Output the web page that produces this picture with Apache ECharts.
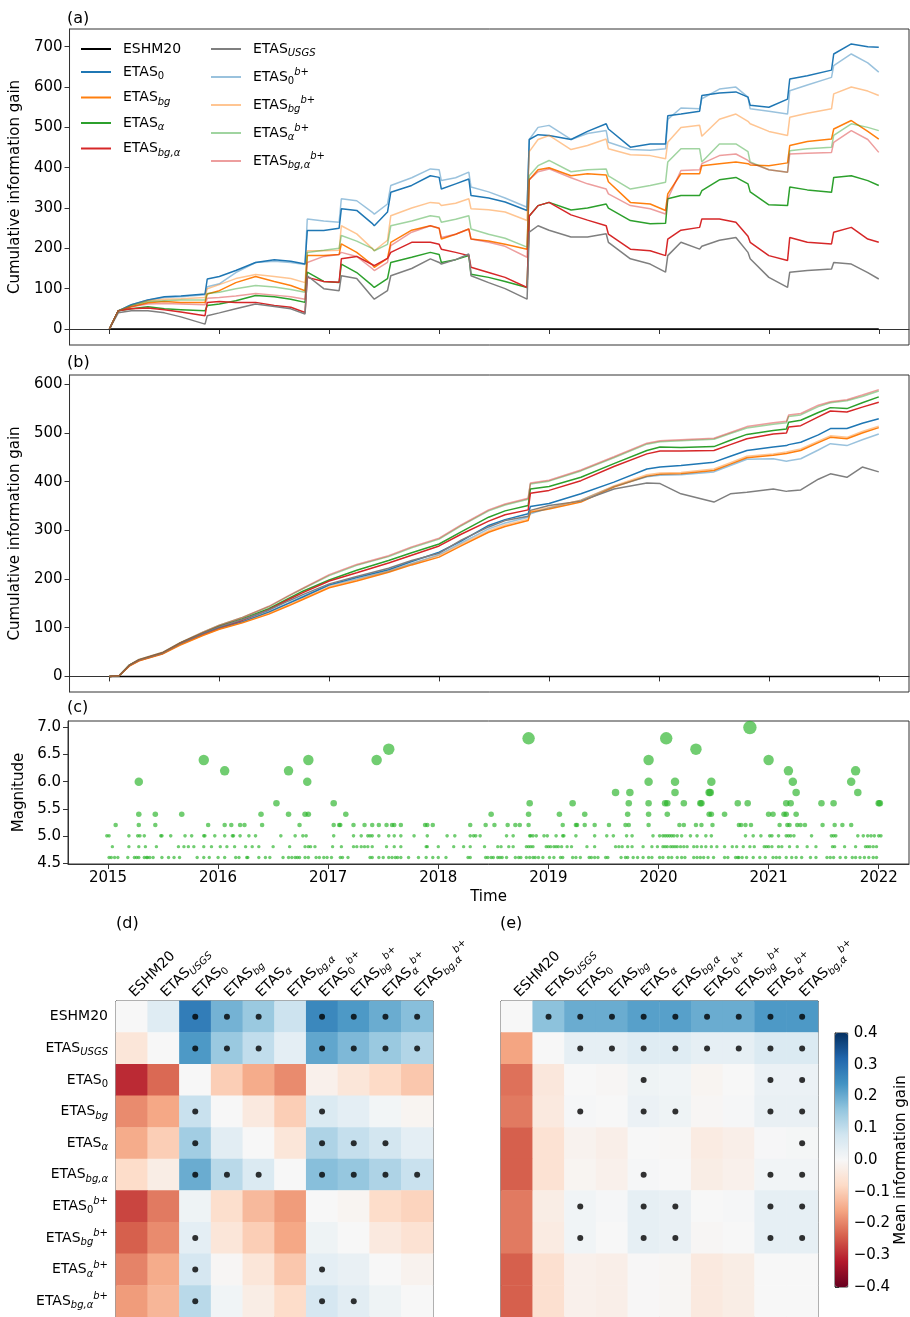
<!DOCTYPE html>
<html>
<head>
<meta charset="utf-8">
<script src="https://cdn.jsdelivr.net/npm/echarts@6/dist/echarts.min.js"></script>
<style>
  html, body { margin: 0; padding: 0; background: #fff; }
  #chart { width: 910px; height: 1317px; }
</style>
</head>
<body>
<div id="chart"></div>
<script>
// model names: '_' starts a subscript, '^' a superscript
const models = ['ESHM20', 'ETAS_USGS', 'ETAS_0', 'ETAS_bg', 'ETAS_α', 'ETAS_bg,α',
  'ETAS_0^b+', 'ETAS_bg^b+', 'ETAS_α^b+', 'ETAS_bg,α^b+'];
const years = [2015, 2016, 2017, 2018, 2019, 2020, 2021, 2022];

// (a) cumulative information gain, last 1-year window
const tA = [2015.0, 2015.08, 2015.2, 2015.35, 2015.5, 2015.65, 2015.87, 2015.89, 2016.0, 2016.15,
  2016.33, 2016.5, 2016.65, 2016.78, 2016.8, 2016.95, 2017.09, 2017.11, 2017.25, 2017.39,
  2017.41, 2017.53, 2017.56, 2017.75, 2017.92, 2018.0, 2018.02, 2018.15, 2018.27, 2018.29,
  2018.45, 2018.6, 2018.8, 2018.82, 2018.9, 2019.0, 2019.2, 2019.35, 2019.52, 2019.54,
  2019.74, 2019.92, 2020.06, 2020.08, 2020.2, 2020.37, 2020.39, 2020.55, 2020.7, 2020.81,
  2020.83, 2021.0, 2021.17, 2021.19, 2021.35, 2021.57, 2021.59, 2021.75, 2021.9, 2022.0];
const aEtas0 = [0, 45, 60, 72, 80, 82, 87, 124, 130, 145,
  165, 172, 168, 161, 244, 244, 250, 298, 294, 262,
  256, 290, 339, 356, 380, 376, 347, 360, 372, 331,
  325, 315, 294, 470, 482, 480, 470, 490, 509, 496,
  451, 459, 459, 529, 533, 540, 579, 585, 588, 575,
  555, 550, 570, 620, 628, 642, 682, 707, 700, 699];
const aEtasBg = [0, 45, 55, 65, 68, 66, 66, 87, 95, 115,
  130, 118, 108, 95, 182, 182, 185, 211, 190, 160,
  153, 175, 215, 245, 256, 250, 223, 235, 248, 223,
  218, 210, 198, 370, 395, 400, 380, 385, 382, 365,
  314, 310, 294, 335, 385, 385, 405, 410, 414, 410,
  407, 405, 412, 455, 465, 471, 496, 517, 490, 471];
const aEtasA = [0, 45, 50, 55, 50, 48, 45, 58, 62, 70,
  83, 80, 74, 66, 141, 118, 115, 161, 140, 108,
  103, 125, 165, 178, 190, 185, 165, 172, 182, 136,
  128, 118, 103, 280, 306, 314, 295, 300, 310, 300,
  269, 261, 262, 323, 331, 331, 343, 370, 376, 360,
  340, 308, 306, 352, 345, 339, 376, 380, 368, 356];
const aEtasBgA = [0, 45, 50, 52, 48, 42, 33, 66, 68, 66,
  66, 58, 54, 41, 128, 118, 116, 174, 180, 160,
  157, 175, 190, 215, 215, 210, 198, 190, 182, 153,
  140, 128, 103, 280, 306, 314, 283, 270, 256, 235,
  198, 194, 182, 223, 245, 252, 273, 273, 265, 230,
  215, 182, 170, 227, 215, 211, 240, 252, 223, 215];
const aEtasUsgs = [0, 40, 45, 45, 40, 30, 12, 33, 40, 50,
  62, 56, 50, 37, 132, 100, 95, 132, 125, 80,
  74, 95, 132, 150, 174, 165, 161, 172, 186, 132,
  115, 100, 74, 240, 256, 245, 228, 228, 236, 215,
  174, 161, 141, 182, 215, 198, 205, 220, 227, 190,
  174, 128, 103, 141, 145, 149, 165, 161, 140, 124];
const aEtas0B = [0, 45, 60, 72, 78, 80, 85, 105, 112, 140,
  165, 168, 165, 160, 273, 268, 265, 323, 318, 290,
  285, 310, 356, 375, 397, 395, 368, 375, 389, 352,
  340, 325, 302, 470, 500, 505, 470, 485, 492, 463,
  445, 443, 447, 520, 548, 546, 571, 595, 600, 575,
  546, 540, 533, 591, 605, 624, 653, 682, 660, 637];
const aEtasBgB = [0, 45, 58, 70, 74, 75, 78, 100, 110, 125,
  135, 130, 125, 115, 194, 194, 195, 256, 236, 200,
  194, 220, 281, 300, 314, 312, 306, 312, 323, 298,
  296, 290, 269, 440, 470, 480, 445, 455, 471, 447,
  432, 430, 422, 463, 500, 505, 478, 520, 533, 515,
  509, 490, 480, 525, 535, 546, 583, 600, 590, 579];
const aEtasAB = [0, 45, 58, 68, 70, 72, 72, 88, 91, 100,
  108, 104, 98, 91, 190, 195, 200, 232, 218, 200,
  194, 210, 256, 268, 281, 278, 265, 272, 281, 248,
  235, 225, 203, 380, 405, 418, 390, 395, 397, 380,
  347, 356, 364, 414, 447, 447, 414, 459, 459, 440,
  414, 395, 389, 442, 447, 451, 480, 509, 500, 492];
const aEtasBgAB = [0, 45, 55, 62, 63, 62, 60, 76, 78, 82,
  88, 84, 80, 74, 165, 180, 185, 190, 180, 150,
  145, 165, 207, 240, 256, 250, 227, 235, 248, 223,
  215, 205, 178, 370, 390, 397, 375, 360, 347, 335,
  306, 298, 285, 323, 393, 395, 410, 430, 434, 418,
  412, 395, 389, 434, 436, 438, 463, 492, 470, 438];

// (b) cumulative information gain, whole period
const tB = [2015.0, 2015.09, 2015.18, 2015.27, 2015.48, 2015.64, 2015.85, 2016.0, 2016.21, 2016.45,
  2016.63, 2016.76, 2017.0, 2017.25, 2017.54, 2017.75, 2018.0, 2018.2, 2018.45, 2018.6,
  2018.81, 2018.83, 2019.0, 2019.29, 2019.59, 2019.89, 2020.01, 2020.2, 2020.5, 2020.65,
  2020.8, 2021.04, 2021.16, 2021.18, 2021.29, 2021.45, 2021.56, 2021.71, 2021.85, 2022.0];
const bEtas0 = [0, 2, 22, 33, 47, 66, 86, 99, 112, 132,
  150, 163, 188, 203, 219, 236, 255, 278, 310, 322,
  334, 349, 355, 375, 399, 426, 430, 433, 440, 452,
  464, 471, 474, 476, 481, 496, 509, 509, 520, 529];
const bEtasBg = [0, 2, 21, 32, 46, 64, 84, 97, 110, 128,
  145, 158, 182, 196, 214, 229, 245, 268, 296, 308,
  320, 337, 344, 358, 389, 411, 415, 416, 423, 436,
  449, 454, 458, 459, 464, 480, 491, 488, 500, 511];
const bEtasA = [0, 2, 23, 34, 48, 68, 89, 103, 118, 139,
  160, 175, 198, 218, 238, 254, 272, 297, 327, 340,
  351, 385, 390, 409, 437, 464, 471, 470, 472, 485,
  497, 505, 508, 522, 526, 542, 552, 550, 562, 574];
const bEtasBgA = [0, 2, 22, 33, 47, 67, 87, 100, 115, 137,
  158, 172, 196, 213, 233, 249, 268, 292, 319, 332,
  342, 376, 382, 402, 431, 457, 463, 463, 464, 476,
  488, 498, 500, 512, 515, 533, 545, 543, 553, 563];
const bEtasUsgs = [0, 2, 23, 34, 48, 68, 89, 102, 117, 136,
  155, 168, 190, 205, 222, 238, 253, 280, 307, 320,
  329, 341, 351, 360, 385, 397, 396, 375, 358, 375,
  378, 385, 380, 381, 383, 405, 416, 409, 430, 420];
const bEtas0B = [0, 2, 22, 33, 47, 66, 87, 100, 113, 133,
  151, 164, 187, 200, 216, 232, 250, 274, 303, 315,
  327, 334, 346, 362, 390, 410, 413, 414, 420, 433,
  446, 447, 442, 443, 447, 465, 478, 474, 486, 498];
const bEtasBgB = [0, 2, 21, 32, 46, 65, 85, 98, 111, 130,
  147, 160, 184, 198, 216, 231, 248, 271, 299, 311,
  323, 339, 347, 362, 391, 414, 418, 419, 426, 439,
  452, 457, 461, 462, 467, 483, 494, 491, 503, 514];
const bEtasAB = [0, 2, 23, 35, 49, 69, 91, 105, 121, 143,
  165, 180, 207, 228, 246, 264, 282, 309, 340, 352,
  364, 395, 401, 422, 449, 477, 482, 484, 487, 499,
  510, 518, 521, 534, 537, 554, 562, 566, 575, 586];
const bEtasBgAB = [0, 2, 23, 35, 49, 69, 91, 105, 121, 144,
  166, 181, 209, 230, 248, 266, 284, 311, 342, 354,
  366, 397, 403, 424, 451, 479, 484, 486, 489, 501,
  513, 521, 524, 537, 540, 557, 564, 568, 578, 589];

// (c) earthquake times (decimal year) grouped by magnitude
const eqM46 = [2015.01, 2015.03, 2015.06, 2015.09, 2015.18, 2015.24, 2015.26, 2015.28, 2015.33, 2015.35,
  2015.36, 2015.38, 2015.41, 2015.49, 2015.55, 2015.60, 2015.65, 2015.81, 2015.87, 2015.92,
  2016.00, 2016.06, 2016.16, 2016.19, 2016.26, 2016.27, 2016.37, 2016.43, 2016.47, 2016.59,
  2016.64, 2016.67, 2016.70, 2016.72, 2016.74, 2016.79, 2016.82, 2016.89, 2016.92, 2016.96,
  2016.99, 2017.03, 2017.11, 2017.13, 2017.18, 2017.38, 2017.40, 2017.46, 2017.50, 2017.55,
  2017.58, 2017.61, 2017.63, 2017.66, 2017.73, 2017.82, 2017.89, 2017.95, 2018.00, 2018.07,
  2018.27, 2018.29, 2018.43, 2018.45, 2018.48, 2018.50, 2018.54, 2018.56, 2018.58, 2018.62,
  2018.70, 2018.73, 2018.75, 2018.80, 2018.83, 2018.86, 2018.88, 2018.91, 2018.95, 2019.01,
  2019.05, 2019.11, 2019.13, 2019.22, 2019.25, 2019.29, 2019.37, 2019.39, 2019.42, 2019.45,
  2019.52, 2019.54, 2019.66, 2019.70, 2019.72, 2019.77, 2019.81, 2019.86, 2019.91, 2019.94,
  2020.01, 2020.04, 2020.09, 2020.12, 2020.17, 2020.21, 2020.24, 2020.32, 2020.35, 2020.38,
  2020.41, 2020.45, 2020.50, 2020.60, 2020.63, 2020.70, 2020.72, 2020.73, 2020.76, 2020.80,
  2020.86, 2020.92, 2020.97, 2021.04, 2021.07, 2021.10, 2021.16, 2021.21, 2021.25, 2021.30,
  2021.38, 2021.43, 2021.53, 2021.56, 2021.59, 2021.65, 2021.70, 2021.76, 2021.79, 2021.83,
  2021.87, 2021.91, 2021.95, 2021.98];
const eqM48 = [2015.04, 2015.19, 2015.28, 2015.34, 2015.44, 2015.64, 2015.69, 2015.73, 2015.78, 2015.87,
  2015.94, 2016.02, 2016.08, 2016.15, 2016.25, 2016.31, 2016.37, 2016.50, 2016.65, 2016.79,
  2016.82, 2016.84, 2016.88, 2017.04, 2017.12, 2017.23, 2017.26, 2017.30, 2017.33, 2017.36,
  2017.40, 2017.53, 2017.60, 2017.66, 2017.89, 2017.90, 2018.00, 2018.14, 2018.23, 2018.29,
  2018.42, 2018.54, 2018.57, 2018.64, 2018.68, 2018.80, 2018.82, 2018.84, 2018.86, 2018.98,
  2019.00, 2019.02, 2019.05, 2019.07, 2019.09, 2019.12, 2019.17, 2019.21, 2019.35, 2019.42,
  2019.61, 2019.64, 2019.67, 2019.72, 2019.76, 2019.86, 2019.94, 2019.99, 2020.04, 2020.06,
  2020.08, 2020.11, 2020.13, 2020.15, 2020.17, 2020.20, 2020.23, 2020.26, 2020.32, 2020.35,
  2020.39, 2020.43, 2020.48, 2020.53, 2020.60, 2020.67, 2020.71, 2020.77, 2020.83, 2020.87,
  2020.96, 2020.98, 2021.00, 2021.03, 2021.09, 2021.12, 2021.19, 2021.26, 2021.35, 2021.43,
  2021.58, 2021.60, 2021.69, 2021.79, 2021.88, 2021.90, 2021.92, 2021.95, 2021.98];
const eqM50 = [2014.99, 2015.01, 2015.19, 2015.27, 2015.29, 2015.33, 2015.48, 2015.49, 2015.57, 2015.70,
  2015.76, 2015.87, 2015.88, 2015.97, 2016.06, 2016.13, 2016.14, 2016.20, 2016.28, 2016.34,
  2016.57, 2016.70, 2016.77, 2016.80, 2017.05, 2017.23, 2017.30, 2017.36, 2017.38, 2017.40,
  2017.46, 2017.55, 2017.60, 2017.66, 2017.78, 2017.90, 2018.08, 2018.15, 2018.29, 2018.32,
  2018.34, 2018.38, 2018.62, 2018.68, 2018.83, 2018.84, 2018.86, 2018.89, 2018.96, 2018.99,
  2019.07, 2019.13, 2019.14, 2019.25, 2019.42, 2019.53, 2019.59, 2019.71, 2019.76, 2019.95,
  2020.01, 2020.04, 2020.06, 2020.08, 2020.10, 2020.12, 2020.14, 2020.17, 2020.21, 2020.29,
  2020.35, 2020.43, 2020.48, 2020.79, 2020.86, 2020.93, 2021.01, 2021.03, 2021.09, 2021.16,
  2021.18, 2021.20, 2021.23, 2021.39, 2021.57, 2021.59, 2021.61, 2021.81, 2021.86, 2021.90,
  2021.93, 2021.96, 2022.00, 2022.02];
const eqM52 = [2015.07, 2015.28, 2015.43, 2015.91, 2016.06, 2016.12, 2016.20, 2016.24, 2016.40, 2016.74,
  2017.05, 2017.10, 2017.11, 2017.23, 2017.33, 2017.40, 2017.46, 2017.53, 2017.58, 2017.60,
  2017.66, 2017.88, 2017.90, 2017.95, 2018.29, 2018.43, 2018.51, 2018.63, 2018.70, 2018.74,
  2018.82, 2019.13, 2019.25, 2019.26, 2019.33, 2019.42, 2019.55, 2019.70, 2019.73, 2019.91,
  2020.19, 2020.23, 2020.34, 2020.39, 2020.49, 2020.73, 2020.75, 2020.79, 2020.84, 2021.10,
  2021.17, 2021.19, 2021.26, 2021.29, 2021.33, 2021.49, 2021.60, 2021.67, 2021.75];
const eqM54 = [2015.28, 2015.43, 2015.67, 2016.39, 2016.64, 2016.79, 2016.82, 2017.16, 2018.48, 2018.82,
  2019.10, 2019.33, 2019.72, 2019.91, 2020.08, 2020.46, 2020.48, 2020.60, 2021.00, 2021.04,
  2021.14, 2021.16, 2021.25];
const eqM56 = [2016.53, 2017.05, 2018.83, 2019.22, 2019.73, 2019.91, 2020.06, 2020.08, 2020.23, 2020.38,
  2020.39, 2020.72, 2020.81, 2021.16, 2021.20, 2021.48, 2021.59, 2022.00, 2022.01];
const eqLarge = [[2019.61, 5.8], [2019.74, 5.8], [2020.15, 5.8], [2020.46, 5.8], [2020.47, 5.8], [2021.25, 5.8], [2021.81, 5.8],
  [2015.28, 6.0], [2016.81, 6.0], [2019.91, 6.0], [2020.15, 6.0], [2020.48, 6.0], [2021.22, 6.0], [2021.75, 6.0],
  [2016.06, 6.2], [2016.64, 6.2], [2021.18, 6.2], [2021.79, 6.2],
  [2015.87, 6.4], [2016.82, 6.4], [2017.44, 6.4], [2019.91, 6.4], [2021.00, 6.4],
  [2017.55, 6.6], [2020.34, 6.6], [2018.82, 6.8], [2020.07, 6.8], [2020.83, 7.0]];

// (d), (e) mean information gain of row model over column model
const gainD = [
  [0, 0.05, 0.28, 0.19, 0.15, 0.085, 0.26, 0.23, 0.2, 0.17],
  [-0.05, 0, 0.23, 0.15, 0.1, 0.04, 0.21, 0.18, 0.15, 0.12],
  [-0.3, -0.23, 0, -0.1, -0.15, -0.19, -0.02, -0.05, -0.08, -0.11],
  [-0.19, -0.155, 0.09, 0, -0.04, -0.1, 0.06, 0.04, 0.01, -0.01],
  [-0.15, -0.1, 0.14, 0.045, 0, -0.05, 0.125, 0.095, 0.075, 0.04],
  [-0.075, -0.03, 0.2, 0.11, 0.06, 0, 0.17, 0.155, 0.125, 0.09],
  [-0.27, -0.21, 0.02, -0.07, -0.13, -0.17, 0, -0.01, -0.075, -0.09],
  [-0.24, -0.19, 0.04, -0.05, -0.1, -0.155, 0.02, 0, -0.04, -0.06],
  [-0.2, -0.15, 0.07, -0.005, -0.05, -0.11, 0.04, 0.03, 0, -0.015],
  [-0.17, -0.135, 0.11, 0.015, -0.03, -0.075, 0.07, 0.045, 0.02, 0]
];
const gainE = [
  [0, 0.165, 0.2, 0.2, 0.22, 0.22, 0.2, 0.2, 0.23, 0.23],
  [-0.16, 0, 0.035, 0.035, 0.05, 0.05, 0.035, 0.035, 0.06, 0.06],
  [-0.22, -0.045, 0, -0.005, 0.02, 0.015, -0.01, 0, 0.025, 0.025],
  [-0.21, -0.04, 0.005, 0, 0.025, 0.02, -0.005, 0.005, 0.03, 0.03],
  [-0.24, -0.06, -0.015, -0.025, 0, -0.003, -0.035, -0.025, 0.003, 0.006],
  [-0.24, -0.06, -0.01, -0.02, 0.005, 0, -0.03, -0.02, 0.012, 0.012],
  [-0.21, -0.03, 0.015, 0.005, 0.035, 0.03, 0, 0.005, 0.035, 0.035],
  [-0.21, -0.035, 0.015, 0, 0.035, 0.03, -0.005, 0, 0.035, 0.035],
  [-0.24, -0.065, -0.02, -0.025, -0.002, -0.006, -0.04, -0.03, 0, 0],
  [-0.24, -0.065, -0.02, -0.025, -0.002, -0.006, -0.04, -0.03, 0, 0]
];
// significant cells (column indices per row)
const signifD = [[2, 3, 4, 6, 7, 8, 9], [2, 3, 4, 6, 7, 8, 9], [], [2, 6], [2, 6, 7, 8],
  [2, 3, 4, 6, 7, 8, 9], [], [2], [2, 6], [2, 6, 7]];
const signifE = [[1, 2, 3, 4, 5, 6, 7, 8, 9], [2, 3, 4, 5, 6, 7, 8, 9], [4, 8, 9], [2, 4, 5, 8, 9], [9],
  [4, 8, 9], [2, 4, 5, 8, 9], [2, 4, 5, 8, 9], [], []];

const FONT = 'DejaVu Sans';
const lineModels = ['ESHM20', 'ETAS_0', 'ETAS_bg', 'ETAS_α', 'ETAS_bg,α',
  'ETAS_USGS', 'ETAS_0^b+', 'ETAS_bg^b+', 'ETAS_α^b+', 'ETAS_bg,α^b+'];
const lineColors = ['#000000', '#1f77b4', '#ff7f0e', '#2ca02c', '#d62728',
  '#7f7f7f', 'rgba(31,119,180,0.45)', 'rgba(255,127,14,0.45)', 'rgba(44,160,44,0.45)', 'rgba(214,39,40,0.45)'];
const seriesA = [null, aEtas0, aEtasBg, aEtasA, aEtasBgA, aEtasUsgs, aEtas0B, aEtasBgB, aEtasAB, aEtasBgAB];
const seriesB = [null, bEtas0, bEtasBg, bEtasA, bEtasBgA, bEtasUsgs, bEtas0B, bEtasBgB, bEtasAB, bEtasBgAB];

// name with sub/superscripts -> rich text
function label (name) {
  let base = name, sub = '', sup = '';
  if (base.indexOf('^') >= 0) { sup = base.split('^')[1]; base = base.split('^')[0]; }
  if (base.indexOf('_') >= 0) { sub = base.split('_')[1]; base = base.split('_')[0]; }
  let s = '{m|' + base + '}';
  if (sub) s += (sub === '0' ? '{subr|' : '{sub|') + sub + '}';
  if (sup) s += '{sup|' + sup + '}';
  return s;
}
function richStyle (size, padLeft) {
  const small = Math.round(size * 0.7);
  return {
    m: { fontSize: size, lineHeight: size + 5, fontFamily: FONT, color: '#000', padding: [0, 0, 0, padLeft] },
    sub: { fontSize: small, lineHeight: small, verticalAlign: 'bottom', fontStyle: 'italic', fontFamily: FONT, color: '#000' },
    subr: { fontSize: small, lineHeight: small, verticalAlign: 'bottom', fontFamily: FONT, color: '#000' },
    sup: { fontSize: small, lineHeight: small + 2, verticalAlign: 'top', fontStyle: 'italic', fontFamily: FONT, color: '#000' }
  };
}

const chart = echarts.init(document.getElementById('chart'));

const axisColor = '#333';
const series = [];
function addLines (times, arrs, idx) {
  lineModels.forEach((name, i) => {
    const vals = arrs[i];
    series.push({
      type: 'line',
      name: name,
      xAxisIndex: idx,
      yAxisIndex: idx,
      data: times.map((t, k) => [t, vals ? vals[k] : 0]),
      showSymbol: false,
      symbol: 'none',
      silent: true,
      lineStyle: { width: 1.5, color: lineColors[i] },
      itemStyle: { color: lineColors[i] },
      z: 2 + i * 0.1
    });
  });
}
addLines(tA, seriesA, 0);
addLines(tB, seriesB, 1);

const quakes = [];
[[eqM46, 4.6], [eqM48, 4.8], [eqM50, 5.0], [eqM52, 5.2], [eqM54, 5.4], [eqM56, 5.6]].forEach(([arr, m]) => {
  arr.forEach(t => quakes.push([t, m]));
});
eqLarge.forEach(p => quakes.push(p));
series.push({
  type: 'scatter',
  xAxisIndex: 2,
  yAxisIndex: 2,
  data: quakes,
  symbolSize: v => Math.max(3.4, 3.6 + (v[1] - 5) * 4.9),
  itemStyle: { color: 'rgba(38,178,38,0.82)' },
  silent: true
});

const heatIdx = [];
function addHeat (matrix, signif, idx) {
  const cells = [];
  matrix.forEach((row, r) => row.forEach((v, c) => cells.push([c, r, v])));
  const dots = [];
  signif.forEach((cols, r) => cols.forEach(c => dots.push([c, r])));
  heatIdx.push(series.length);
  series.push({ type: 'heatmap', xAxisIndex: idx, yAxisIndex: idx, data: cells, silent: true, itemStyle: { borderWidth: 0 } });
  series.push({ type: 'scatter', xAxisIndex: idx, yAxisIndex: idx, data: dots, symbolSize: 6, itemStyle: { color: '#000' }, silent: true, z: 5 });
}
addHeat(gainD, signifD, 3);
addHeat(gainE, signifE, 4);

function timeAxis (idx, showLabels) {
  return {
    gridIndex: idx,
    type: 'value',
    min: 2014.637,
    max: 2022.275,
    axisLine: { lineStyle: { color: axisColor } },
    axisTick: { customValues: years, length: 5, lineStyle: { color: axisColor } },
    axisLabel: { show: showLabels, customValues: years, fontSize: 15, color: '#000', margin: 7, formatter: v => String(Math.round(v)) },
    splitLine: { show: false },
    name: showLabels ? 'Time' : '',
    nameLocation: 'middle',
    nameGap: 26,
    nameTextStyle: { fontSize: 15, color: '#000' }
  };
}
function valueAxis (idx, min, max, ticks, name, fmt, gap) {
  return {
    gridIndex: idx,
    type: 'value',
    min: min,
    max: max,
    axisLine: { show: true, lineStyle: { color: axisColor } },
    axisTick: { show: true, customValues: ticks, length: 5, lineStyle: { color: axisColor } },
    axisLabel: { customValues: ticks, fontSize: 15, color: '#000', margin: 7, formatter: fmt },
    splitLine: { show: false },
    name: name,
    nameLocation: 'middle',
    nameGap: gap,
    nameTextStyle: { fontSize: 15, color: '#000' }
  };
}
function catX (idx) {
  return {
    gridIndex: idx,
    type: 'category',
    data: models,
    position: 'top',
    axisLine: { lineStyle: { color: axisColor } },
    axisTick: { alignWithLabel: true, interval: 0, length: 4, lineStyle: { color: axisColor } },
    axisLabel: { interval: 0, rotate: -45, margin: 6, formatter: label, rich: richStyle(14, 0) },
    splitLine: { show: false }
  };
}
function catY (idx, showLabels) {
  return {
    gridIndex: idx,
    type: 'category',
    data: models,
    inverse: true,
    axisLine: { lineStyle: { color: axisColor } },
    axisTick: { alignWithLabel: true, interval: showLabels ? 0 : 1, length: 4, lineStyle: { color: axisColor } },
    axisLabel: { show: showLabels, interval: 0, margin: 8, formatter: label, rich: richStyle(14, 0) },
    splitLine: { show: false }
  };
}

const gridStyle = { show: true, borderColor: axisColor, borderWidth: 1 };
const legendBase = {
  orient: 'vertical',
  top: 42,
  padding: 0,
  itemGap: 9,
  itemWidth: 30,
  itemHeight: 2,
  icon: 'rect',
  selectedMode: false,
  formatter: label,
  textStyle: { rich: richStyle(14, 7) }
};

const option = {
  animation: false,
  backgroundColor: '#fff',
  textStyle: { fontFamily: FONT },
  title: [
    { text: '(a)', left: 67, top: 11 },
    { text: '(b)', left: 67, top: 355 },
    { text: '(c)', left: 67, top: 700 },
    { text: '(d)', left: 116, top: 916 },
    { text: '(e)', left: 500, top: 916 }
  ].map(t => Object.assign(t, { padding: 0, textStyle: { fontSize: 16, fontWeight: 'normal', color: '#000', fontFamily: FONT } })),
  legend: [
    Object.assign({ left: 81, data: lineModels.slice(0, 5) }, legendBase),
    Object.assign({ left: 211, data: lineModels.slice(5) }, legendBase)
  ],
  grid: [
    Object.assign({ left: 68, top: 29, width: 841, height: 316 }, gridStyle),
    Object.assign({ left: 68, top: 375, width: 841, height: 317 }, gridStyle),
    Object.assign({ left: 68, top: 721, width: 841, height: 143 }, gridStyle),
    Object.assign({ left: 116, top: 1001, width: 317, height: 317 }, gridStyle),
    Object.assign({ left: 501, top: 1001, width: 317, height: 317 }, gridStyle),
    Object.assign({ left: 835, top: 1033, width: 13, height: 254 }, gridStyle)
  ],
  xAxis: [
    timeAxis(0, false),
    timeAxis(1, false),
    timeAxis(2, true),
    catX(3),
    catX(4),
    { gridIndex: 5, type: 'value', show: false, min: 0, max: 1 }
  ],
  yAxis: [
    valueAxis(0, -39.7, 744, [0, 100, 200, 300, 400, 500, 600, 700], 'Cumulative information gain', v => String(v), 36),
    valueAxis(1, -32, 619, [0, 100, 200, 300, 400, 500, 600], 'Cumulative information gain', v => String(v), 36),
    valueAxis(2, 4.48, 7.12, [4.5, 5.0, 5.5, 6.0, 6.5, 7.0], 'Magnitude', v => v.toFixed(1), 34),
    catY(3, true),
    catY(4, false),
    {
      gridIndex: 5,
      type: 'value',
      min: -0.4,
      max: 0.4,
      interval: 0.1,
      position: 'right',
      axisLine: { show: true, lineStyle: { color: axisColor } },
      axisTick: { show: true, length: 4, lineStyle: { color: axisColor } },
      axisLabel: { fontSize: 15, color: '#000', margin: 6, formatter: v => (v < -1e-9 ? '\u2212' : '') + Math.abs(v).toFixed(1) },
      splitLine: { show: false },
      name: 'Mean information gain',
      nameLocation: 'middle',
      nameRotate: 90,
      nameGap: 42,
      nameTextStyle: { fontSize: 15, color: '#000' }
    }
  ],
  visualMap: {
    type: 'continuous',
    min: -0.4,
    max: 0.4,
    seriesIndex: heatIdx,
    calculable: false,
    hoverLink: false,
    orient: 'vertical',
    left: 835,
    top: 1033,
    padding: 0,
    itemWidth: 13,
    itemHeight: 254,
    text: null,
    inRange: {
      color: ['#67001f', '#b2182b', '#d6604d', '#f4a582', '#fddbc7', '#f7f7f7',
        '#d1e5f0', '#92c5de', '#4393c3', '#2166ac', '#053061']
    }
  },
  series: series
};

chart.setOption(option);
</script>
</body>
</html>
